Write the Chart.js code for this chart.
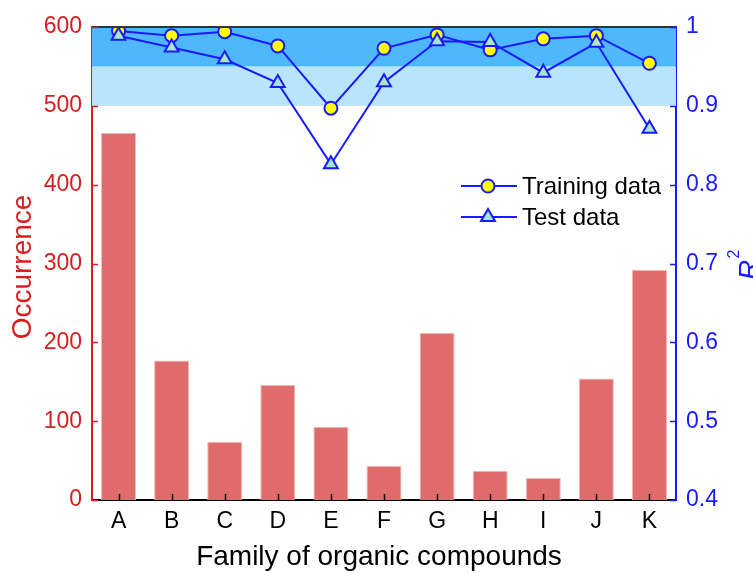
<!DOCTYPE html>
<html>
<head>
<meta charset="utf-8">
<script src="https://cdn.jsdelivr.net/npm/chart.js@4"></script>
<style>
  html, body { margin: 0; padding: 0; background: #fff; }
  #wrap { width: 753px; height: 573px; }
</style>
</head>
<body>
<div id="wrap"><canvas id="chart" width="753" height="573"></canvas></div>
<script>
// data
const families = ['A', 'B', 'C', 'D', 'E', 'F', 'G', 'H', 'I', 'J', 'K'];
const occurrence = [466, 177, 74, 146, 93, 43, 212, 37, 28, 154, 292];
const trainingR2 = [0.995, 0.989, 0.994, 0.976, 0.897, 0.973, 0.990, 0.971, 0.985, 0.989, 0.954];
const testR2 = [0.989, 0.974, 0.959, 0.929, 0.826, 0.930, 0.982, 0.981, 0.942, 0.980, 0.871];
const bandLimits = [0.9, 0.95, 1.0];

const RED = '#d81e1e';
const BLUE = '#1a1aff';
const FONT = '"Liberation Sans", Arial, sans-serif';

// blue bands behind the R2 lines + inward ticks + titles + legend
const decorPlugin = {
  id: 'decor',
  beforeDatasetsDraw(chart) {
    const { ctx, chartArea: a, scales } = chart;
    const y1 = scales.y1;
    ctx.save();
    ctx.fillStyle = '#b8e4fc';
    ctx.fillRect(a.left, y1.getPixelForValue(bandLimits[1]), a.right - a.left,
      y1.getPixelForValue(bandLimits[0]) - y1.getPixelForValue(bandLimits[1]));
    ctx.fillStyle = '#4fb8fc';
    ctx.fillRect(a.left, y1.getPixelForValue(bandLimits[2]), a.right - a.left,
      y1.getPixelForValue(bandLimits[1]) - y1.getPixelForValue(bandLimits[2]));
    ctx.restore();
  },
  afterDraw(chart) {
    const { ctx, chartArea: a, scales } = chart;
    ctx.save();
    // top frame line
    ctx.strokeStyle = '#333';
    ctx.lineWidth = 2;
    ctx.beginPath();
    ctx.moveTo(a.left, a.top);
    ctx.lineTo(a.right, a.top);
    ctx.stroke();

    // inward ticks
    ctx.lineWidth = 1.5;
    ctx.strokeStyle = RED;
    scales.y.ticks.forEach(t => {
      const p = Math.round(scales.y.getPixelForValue(t.value)) + 0.5;
      ctx.beginPath(); ctx.moveTo(a.left, p); ctx.lineTo(a.left + 6, p); ctx.stroke();
    });
    ctx.strokeStyle = BLUE;
    scales.y1.ticks.forEach(t => {
      const p = Math.round(scales.y1.getPixelForValue(t.value)) + 0.5;
      ctx.beginPath(); ctx.moveTo(a.right, p); ctx.lineTo(a.right - 6, p); ctx.stroke();
    });
    ctx.strokeStyle = '#000';
    families.forEach((f, i) => {
      const p = Math.round(scales.x.getPixelForValue(i)) + 0.5;
      ctx.beginPath(); ctx.moveTo(p, a.bottom); ctx.lineTo(p, a.bottom - 6); ctx.stroke();
    });

    // axis titles
    const midY = (a.top + a.bottom) / 2;
    ctx.textAlign = 'center';
    ctx.textBaseline = 'middle';
    ctx.fillStyle = RED;
    ctx.font = '28px ' + FONT;
    ctx.save();
    ctx.translate(23, 267);
    ctx.rotate(-Math.PI / 2);
    ctx.fillText('Occurrence', 0, 0);
    ctx.restore();

    ctx.fillStyle = BLUE;
    ctx.save();
    ctx.translate(758, midY);
    ctx.rotate(-Math.PI / 2);
    ctx.textBaseline = 'alphabetic';
    ctx.textAlign = 'left';
    ctx.font = 'italic 28px ' + FONT;
    ctx.fillText('R', -16.5, 0);
    ctx.font = '16px ' + FONT;
    ctx.fillText('2', 5, -19);
    ctx.restore();

    ctx.fillStyle = '#000';
    ctx.font = '28px ' + FONT;
    ctx.fillText('Family of organic compounds', 379, 557);

    // legend inside the plot
    const items = [
      { label: 'Training data', ds: chart.data.datasets[1], y: 186 },
      { label: 'Test data', ds: chart.data.datasets[0], y: 217 }
    ];
    items.forEach(it => {
      ctx.strokeStyle = BLUE;
      ctx.lineWidth = 2;
      ctx.beginPath(); ctx.moveTo(461, it.y); ctx.lineTo(517, it.y); ctx.stroke();
      ctx.fillStyle = it.ds.pointBackgroundColor;
      ctx.lineWidth = it.ds.pointBorderWidth;
      ctx.beginPath();
      const r = it.ds.pointRadius;
      if (it.ds.pointStyle === 'circle') {
        ctx.arc(488, it.y, r, 0, Math.PI * 2);
      } else {
        ctx.moveTo(488, it.y - r);
        ctx.lineTo(488 + r * 0.87, it.y + r / 2);
        ctx.lineTo(488 - r * 0.87, it.y + r / 2);
        ctx.closePath();
      }
      ctx.fill();
      ctx.stroke();
      ctx.fillStyle = '#000';
      ctx.font = '24px ' + FONT;
      ctx.textAlign = 'left';
      ctx.textBaseline = 'middle';
      ctx.fillText(it.label, 522, it.y + 1);
    });
    ctx.restore();
  }
};

new Chart(document.getElementById('chart'), {
  type: 'bar',
  data: {
    labels: families,
    datasets: [
      {
        type: 'line',
        label: 'Test data',
        data: testR2,
        yAxisID: 'y1',
        borderColor: BLUE,
        borderWidth: 2,
        pointStyle: 'triangle',
        pointRadius: 8,
        pointBorderWidth: 2,
        pointBackgroundColor: '#a6e8c4',
        pointBorderColor: BLUE,
        tension: 0,
        order: 1
      },
      {
        type: 'line',
        label: 'Training data',
        data: trainingR2,
        yAxisID: 'y1',
        borderColor: BLUE,
        borderWidth: 2,
        pointStyle: 'circle',
        pointRadius: 6.5,
        pointBorderWidth: 2,
        pointBackgroundColor: '#ffff00',
        pointBorderColor: BLUE,
        tension: 0,
        order: 2
      },
      {
        label: 'Occurrence',
        data: occurrence,
        yAxisID: 'y',
        backgroundColor: '#e06b6b',
        borderColor: '#f4b8b8',
        borderWidth: 1,
        barPercentage: 0.66,
        categoryPercentage: 1,
        order: 3
      }
    ]
  },
  options: {
    responsive: false,
    animation: false,
    layout: { padding: { top: 27, left: 0, right: 0, bottom: 0 } },
    plugins: {
      legend: { display: false },
      tooltip: { enabled: false }
    },
    scales: {
      x: {
        grid: { display: false, drawTicks: false },
        border: { color: '#000', width: 2 },
        ticks: { color: '#000', font: { family: FONT, size: 23 }, padding: 8 },
        afterFit(s) { s.height = 73; }
      },
      y: {
        position: 'left',
        min: 0,
        max: 600,
        grid: { display: false, drawTicks: false },
        border: { color: RED, width: 2 },
        ticks: { stepSize: 100, color: RED, font: { family: FONT, size: 23 }, padding: 10 },
        afterFit(s) { s.width = 92; }
      },
      y1: {
        position: 'right',
        min: 0.4,
        max: 1,
        grid: { display: false, drawTicks: false },
        border: { color: BLUE, width: 2 },
        ticks: {
          stepSize: 0.1,
          color: BLUE,
          font: { family: FONT, size: 23 },
          padding: 10,
          callback: v => String(+v.toFixed(1))
        },
        afterFit(s) { s.width = 77; }
      }
    }
  },
  plugins: [decorPlugin]
});
</script>
</body>
</html>
